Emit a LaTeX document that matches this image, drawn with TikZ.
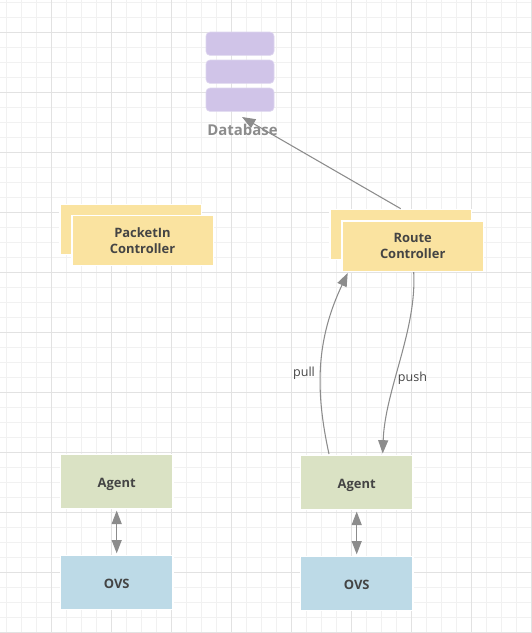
\documentclass[tikz,border=0pt]{standalone}
\usepackage{fontspec}
\setmainfont{Open Sans}
\usetikzlibrary{arrows.meta}
\definecolor{minorgrid}{HTML}{F1F1F1}
\definecolor{majorgrid}{HTML}{E2E2E2}
\definecolor{linegray}{HTML}{8C8C8C}
\definecolor{textgray}{HTML}{444444}
\definecolor{dbfill}{HTML}{D0C4E8}
\definecolor{ctrlfill}{HTML}{FAE3A0}
\definecolor{agentfill}{HTML}{DAE2C4}
\definecolor{ovsfill}{HTML}{BDDAE7}
\tikzset{
  box/.style={draw=white,line width=1pt,inner sep=0pt,align=center,text=textgray,font=\fontsize{9.7}{12}\selectfont\bfseries},
  dbbar/.style={draw=dbfill!70!white,fill=dbfill,rounded corners=3pt,line width=0.5pt,minimum width=51pt,minimum height=17.5pt,inner sep=0pt},
  ctrl/.style={box,fill=ctrlfill,minimum width=106pt,minimum height=37.75pt},
  small/.style={box,text height=9pt,text depth=0pt,minimum width=84.25pt,minimum height=40.75pt},
  link/.style={draw=linegray,line width=0.8pt,-{Triangle[length=10pt,width=7.5pt]}},
  both/.style={draw=linegray,line width=0.8pt,{Triangle[length=10pt,width=7.5pt]}-{Triangle[length=10pt,width=7.5pt]}},
  lab/.style={inner sep=0pt,text=textgray,font=\fontsize{9.4}{11}\selectfont}
}
\begin{document}
\begin{tikzpicture}[x=0.75pt,y=-0.75pt]
\useasboundingbox (0,0) rectangle (532,633);
% grid
\foreach \x in {6,21,...,531} \draw[minorgrid,line width=0.75pt] (\x,0) -- (\x,633);
\foreach \y in {2,17,...,632} \draw[minorgrid,line width=0.75pt] (0,\y) -- (532,\y);
\foreach \x in {51,111,...,531} \draw[majorgrid,line width=0.75pt] (\x,0) -- (\x,633);
\foreach \y in {32,92,...,632} \draw[majorgrid,line width=0.75pt] (0,\y) -- (532,\y);

% database
\node[dbbar] (db1) at (240,43.7) {};
\node[dbbar] (db2) at (240,71.7) {};
\node[dbbar] (db3) at (240,99.7) {};
\node[inner sep=0pt,text=linegray,font=\fontsize{11.2}{12}\selectfont\bfseries] (dblabel) at (242.5,130) {Database};

% controllers
\node[ctrl] (packetback) at (130.7,229.5) {};
\node[ctrl] (packet) at (142.5,240.5) {PacketIn\\Controller};
\node[ctrl] (routeback) at (400.7,234.5) {};
\node[ctrl] (route) at (412.7,246) {Route\\Controller};

% agents and switches
\node[small,fill=agentfill] (agentl) at (116.7,481.5) {Agent};
\node[small,fill=ovsfill] (ovsl) at (116.7,582.5) {OVS};
\node[small,fill=agentfill] (agentr) at (356.7,482.5) {Agent};
\node[small,fill=ovsfill] (ovsr) at (356.7,583.5) {OVS};

\coordinate (dbin) at (242,117);
\coordinate (pullout) at (329,454);
\coordinate (pullin) at (347.7,273);
\coordinate (pushout) at (413.7,272);
\coordinate (pushin) at (382.7,453.5);

\draw[link] (routeback.north) -- (dbin);
\draw[link] (pullout) .. controls (315,390) and (316,340) .. (pullin);
\draw[link] (pushout) .. controls (417,330) and (385,390) .. (pushin);
\draw[both,shorten <=1pt,shorten >=1pt] (agentl) -- (ovsl);
\draw[both,shorten <=1pt,shorten >=1pt] (agentr) -- (ovsr);

\node[lab] (pull) at (304,373.5) {pull};
\node[lab] (push) at (412.5,378) {push};
\end{tikzpicture}
\end{document}
